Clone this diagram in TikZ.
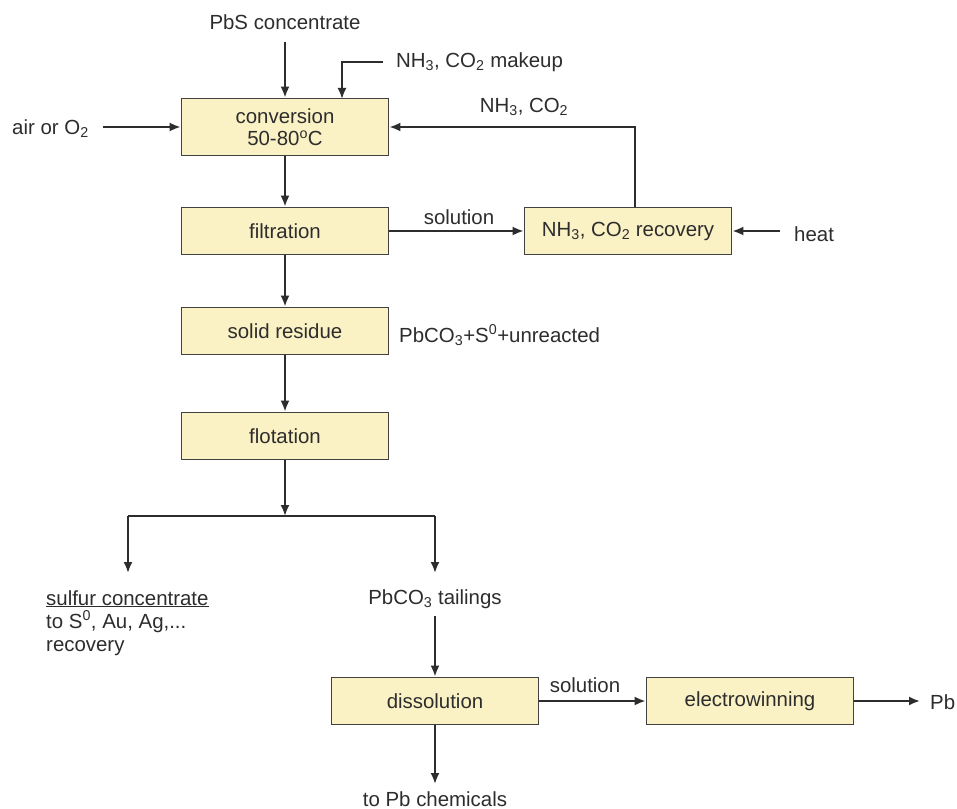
\documentclass[tikz,border=0pt]{standalone}
\usepackage{fontspec}
\setmainfont{Liberation Sans}
\usetikzlibrary{arrows.meta}
\definecolor{boxfill}{RGB}{250,242,196}
\definecolor{ink}{RGB}{45,45,45}
\begin{document}
\begin{tikzpicture}[x=1bp,y=-1bp,
  every node/.style={font=\fontsize{20.5}{23.5}\selectfont, text=ink},
  proc/.style={draw=ink!90, line width=1.8bp, fill=boxfill, minimum width=207bp, minimum height=47bp, inner sep=0pt, align=center},
  lbl/.style={inner sep=1bp},
  flow/.style={draw=ink, line width=2bp, -{Latex[length=11bp,width=9bp]}},
  line/.style={draw=ink, line width=2bp}]
\useasboundingbox (0,0) rectangle (957,809);
\fill[white] (0,0) rectangle (957,809);
% boxes
\node[proc, minimum height=57bp] (conv) at (285,127) {conversion\\[-1bp]50-80\textsuperscript{o}C};
\node[proc] (filt) at (285,231) {filtration};
\node[proc] (recov) at (628,231) {NH\textsubscript{3}, CO\textsubscript{2} recovery};
\node[proc] (resid) at (285,331) {solid residue};
\node[proc] (flot) at (285,436) {flotation};
\node[proc] (diss) at (435,701) {dissolution};
\node[proc] (elec) at (750,701) {electrowinning};
% texts
\node[lbl] (pbs) at (285,22) {PbS concentrate};
\node[lbl, anchor=west] (makeup) at (395,62) {NH\textsubscript{3}, CO\textsubscript{2} makeup};
\node[lbl, anchor=west] (air) at (11,129) {air or O\textsubscript{2}};
\node[lbl] (rec) at (524,107) {NH\textsubscript{3}, CO\textsubscript{2}};
\node[lbl] (sol1) at (459,217) {solution};
\node[lbl, anchor=west] (heat) at (793,234) {heat};
\node[lbl, anchor=west] (unr) at (398,335) {PbCO\textsubscript{3}+S\textsuperscript{0}+unreacted};
\node[lbl, anchor=north west, align=left] (sulf) at (45,589) {\underline{sulfur concentrate}\\to S\textsuperscript{0}, Au, Ag,...\\recovery};
\node[lbl] (tail) at (435,599) {PbCO\textsubscript{3} tailings};
\node[lbl] (sol2) at (585,685) {solution};
\node[lbl, anchor=west] (pb) at (929,702) {Pb};
\node[lbl] (chem) at (435,799) {to Pb chemicals};
% helper coordinates
\coordinate (pbsend) at (285,42);
\coordinate (mk1) at (383,62);
\coordinate (mk2) at (342,62);
\coordinate (mkend) at (342,99);
\coordinate (airend) at (103,127);
\coordinate (rc) at (635,127);
\coordinate (rcb) at (635,207);
\coordinate (heatend) at (780,231);
\coordinate (split) at (285,516);
\coordinate (sl) at (128,516);
\coordinate (sr) at (435,516);
\coordinate (slend) at (128,573);
\coordinate (srend) at (435,573);
\coordinate (tailend) at (435,616);
\coordinate (pbstart) at (920,701);
\coordinate (chemend) at (435,784);
% connectors
\draw[flow] (pbsend) -- (conv.north);
\draw[flow] (mk1) -- (mk2) -- (mkend);
\draw[flow] (airend) -- (conv.west);
\draw[flow] (rcb) -- (rc) -- (conv.east);
\draw[flow] (conv.south) -- (filt.north);
\draw[flow] (filt.east) -- (recov.west);
\draw[flow] (heatend) -- (recov.east);
\draw[flow] (filt.south) -- (resid.north);
\draw[flow] (resid.south) -- (flot.north);
\draw[line] (sl) -- (sr);
\draw[flow] (flot.south) -- (split);
\draw[flow] (sl) -- (slend);
\draw[flow] (sr) -- (srend);
\draw[flow] (tailend) -- (diss.north);
\draw[flow] (diss.east) -- (elec.west);
\draw[flow] (elec.east) -- (pbstart);
\draw[flow] (diss.south) -- (chemend);
\end{tikzpicture}
\end{document}
